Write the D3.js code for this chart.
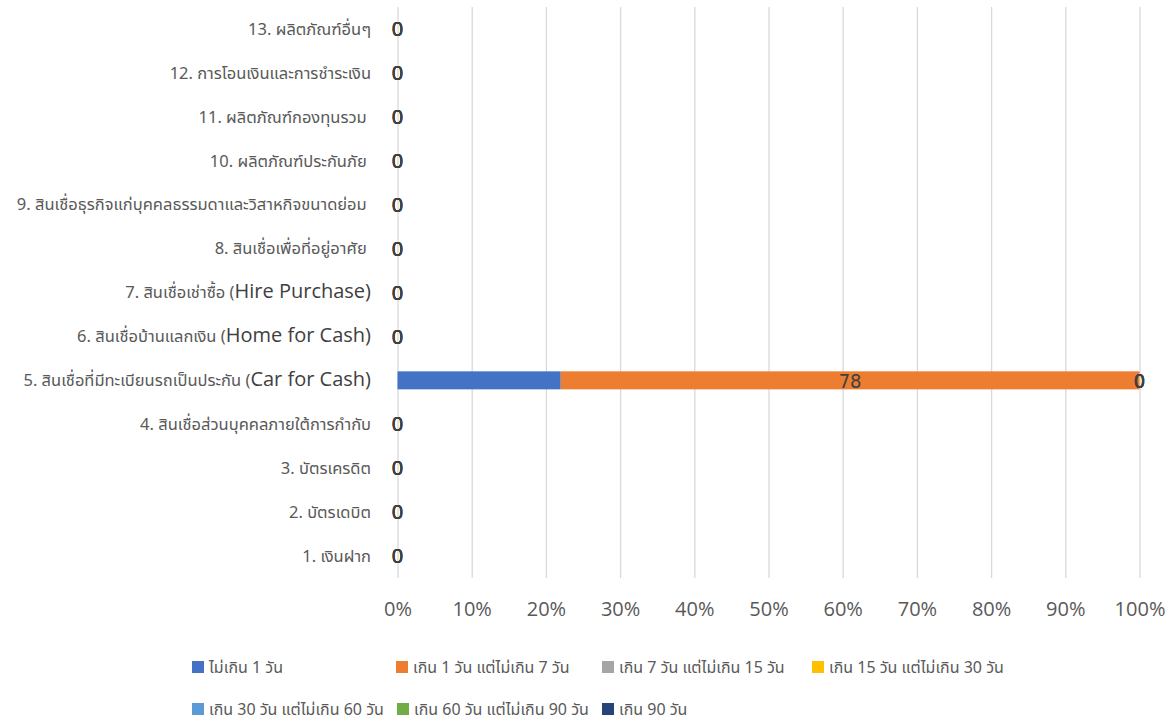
<!DOCTYPE html>
<html>
<head>
<meta charset="utf-8">
<script src="https://cdn.jsdelivr.net/npm/d3@7"></script>
<style>
  body { margin: 0; background: #fff; }
  svg { display: block; }
  text { white-space: pre; }
</style>
</head>
<body>
<svg id="chart" width="1176" height="724"></svg>
<script>
// categories from bottom to top
const categories = [
    "1. เงินฝาก",
    "2. บัตรเดบิต",
    "3. บัตรเครดิต",
    "4. สินเชื่อส่วนบุคคลภายใต้การกำกับ",
    "5. สินเชื่อที่มีทะเบียนรถเป็นประกัน (Car for Cash)",
    "6. สินเชื่อบ้านแลกเงิน (Home for Cash)",
    "7. สินเชื่อเช่าซื้อ (Hire Purchase)",
    "8. สินเชื่อเพื่อที่อยู่อาศัย ",
    "9. สินเชื่อธุรกิจแก่บุคคลธรรมดาและวิสาหกิจขนาดย่อม ",
    "10. ผลิตภัณฑ์ประกันภัย ",
    "11. ผลิตภัณฑ์กองทุนรวม ",
    "12. การโอนเงินและการชำระเงิน",
    "13. ผลิตภัณฑ์อื่นๆ"
];
const seriesNames = [
    "ไม่เกิน 1 วัน",
    "เกิน 1 วัน แต่ไม่เกิน 7 วัน",
    "เกิน 7 วัน แต่ไม่เกิน 15 วัน",
    "เกิน 15 วัน แต่ไม่เกิน 30 วัน",
    "เกิน 30 วัน แต่ไม่เกิน 60 วัน",
    "เกิน 60 วัน แต่ไม่เกิน 90 วัน",
    "เกิน 90 วัน"
];
const colors = ["#4472C4", "#ED7D31", "#A5A5A5", "#FFC000", "#5B9BD5", "#70AD47", "#264478"];
const s1 = [0, 0, 0, 0, 22, 0, 0, 0, 0, 0, 0, 0, 0];
const s2 = [0, 0, 0, 0, 78, 0, 0, 0, 0, 0, 0, 0, 0];
const s3 = [0, 0, 0, 0, 0, 0, 0, 0, 0, 0, 0, 0, 0];
const s4 = [0, 0, 0, 0, 0, 0, 0, 0, 0, 0, 0, 0, 0];
const s5 = [0, 0, 0, 0, 0, 0, 0, 0, 0, 0, 0, 0, 0];
const s6 = [0, 0, 0, 0, 0, 0, 0, 0, 0, 0, 0, 0, 0];
const s7 = [0, 0, 0, 0, 0, 0, 0, 0, 0, 0, 0, 0, 0];
const seriesValues = [s1, s2, s3, s4, s5, s6, s7];
const tickValues = [0, 0.1, 0.2, 0.3, 0.4, 0.5, 0.6, 0.7, 0.8, 0.9, 1];

const thaiFont = "'Noto Sans Thai', 'Noto Sans', 'DejaVu Sans', sans-serif";
const latinFont = "'Open Sans', 'Noto Sans', sans-serif";
const condFont = "'DejaVu Sans Condensed', 'Liberation Sans Narrow', 'Open Sans', sans-serif";

const svg = d3.select("#chart");
const plot = { left: 397.5, right: 1139.5, top: 7, bottom: 578 };

const x = d3.scaleLinear().domain([0, 1]).range([plot.left, plot.right]);
const y = d3.scaleBand().domain(categories).range([plot.bottom, plot.top]).paddingInner(0.59).paddingOuter(0.295);

// grid
svg.append("g")
    .attr("transform", `translate(0,${plot.bottom})`)
    .call(d3.axisBottom(x).tickValues(tickValues).tickSize(-(plot.bottom - plot.top)).tickFormat(""))
    .call(g => g.select(".domain").remove())
    .call(g => g.selectAll("line").attr("stroke", "#d9d9d9").attr("stroke-width", 1.3));

// x tick labels
svg.append("g")
    .attr("transform", `translate(0,${plot.bottom + 21})`)
    .call(d3.axisBottom(x).tickValues(tickValues).tickSize(0).tickFormat(d3.format(".0%")))
    .call(g => g.select(".domain").remove())
    .call(g => g.selectAll("text")
        .attr("fill", "#595959")
        .style("font-family", latinFont)
        .style("font-size", "20px"));

// stacked data (as share of each row)
const rows = categories.map((c, i) => {
    const r = { cat: c };
    let total = 0;
    seriesValues.forEach((s, k) => { r[k] = s[i]; total += s[i]; });
    r.total = total;
    return r;
});
const keys = seriesNames.map((d, k) => k);
const stack = d3.stack().keys(keys).value((d, k) => d.total ? d[k] / d.total : 0);
const layers = stack(rows);

const bars = svg.append("g");
layers.forEach(layer => {
    bars.selectAll(null)
        .data(layer)
        .join("rect")
        .attr("x", d => x(d[0]))
        .attr("y", d => y(d.data.cat))
        .attr("width", d => x(d[1]) - x(d[0]))
        .attr("height", y.bandwidth())
        .attr("fill", colors[layer.key]);
});

// data labels (first series labels are hidden in the reference)
const labels = svg.append("g");
layers.slice(1).forEach(layer => {
    labels.selectAll(null)
        .data(layer)
        .join("text")
        .attr("x", d => x((d[0] + d[1]) / 2))
        .attr("y", d => y(d.data.cat) + y.bandwidth() / 2)
        .attr("dy", "0.36em")
        .attr("text-anchor", "middle")
        .attr("fill", "#404040")
        .style("font-family", d => d.data.total ? condFont : latinFont)
        .style("font-size", "20px")
        .text(d => d.data[layer.key]);
});

// category labels
const catG = svg.append("g");
categories.forEach(c => {
    const m = c.match(/^(.*\()(.+\))$/);
    const t = catG.append("text")
        .attr("x", 371)
        .attr("y", y(c) + y.bandwidth() / 2)
        .attr("dy", "0.35em")
        .attr("text-anchor", "end")
        .attr("fill", "#595959")
        .style("font-family", thaiFont)
        .style("font-size", "16.5px");
    if (m) {
        t.append("tspan").text(m[1]);
        t.append("tspan").attr("fill", "#404040").style("font-family", latinFont).style("font-size", "20px").text(m[2]);
    } else {
        t.text(c);
    }
});

// legend
const legendPos = [[192, 667], [396, 667], [602, 667], [812, 667], [192, 709], [397, 709], [602, 709]];
const legend = svg.append("g");
seriesNames.forEach((name, k) => {
    const [lx, ly] = legendPos[k];
    legend.append("rect")
        .attr("x", lx).attr("y", ly - 6)
        .attr("width", 12).attr("height", 12)
        .attr("fill", colors[k]);
    legend.append("text")
        .attr("x", lx + 17).attr("y", ly)
        .attr("dy", "0.35em")
        .attr("fill", "#595959")
        .style("font-family", thaiFont)
        .style("font-size", "16px")
        .text(name);
});
</script>
</body>
</html>
